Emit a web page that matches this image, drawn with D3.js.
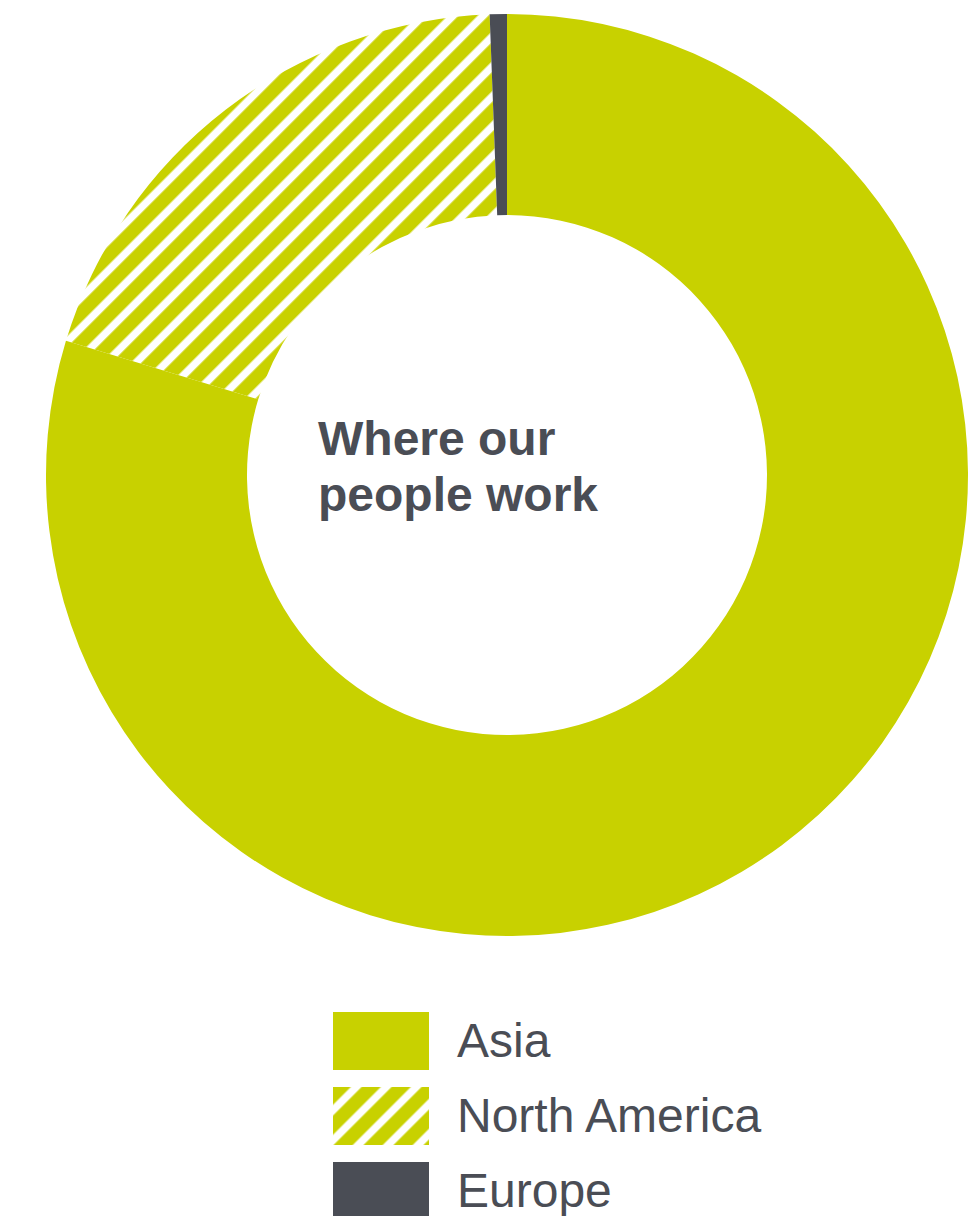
<!DOCTYPE html>
<html>
<head>
<meta charset="utf-8">
<script src="https://cdn.jsdelivr.net/npm/d3@7"></script>
<style>
  html, body { margin: 0; padding: 0; background: #ffffff; }
  svg { display: block; }
</style>
</head>
<body>
<script>
// Share of employees by region (percent)
const regions = ["Asia", "North America", "Europe"];
const shares = [79.7, 19.7, 0.6];
const fills = ["solid", "hatch", "dark"];
const titleLines = ["Where our", "people work"];

const W = 978, H = 1216;
const lime = "#c8d100";
const slate = "#4a4d55";

const svg = d3.select("body").append("svg")
  .attr("width", W).attr("height", H);

// Diagonal hatch used for North America
const defs = svg.append("defs");
const period = 21.2;
const pat = defs.append("pattern")
  .attr("id", "hatch")
  .attr("patternUnits", "userSpaceOnUse")
  .attr("width", period)
  .attr("height", period)
  .attr("patternTransform", "rotate(45)");
pat.append("rect")
  .attr("x", 1.3).attr("y", 0)
  .attr("width", 13.6).attr("height", period)
  .attr("fill", lime);
pat.append("rect")
  .attr("x", 1.3 - period).attr("y", 0)
  .attr("width", 13.6).attr("height", period)
  .attr("fill", lime);

const fillFor = f => f === "solid" ? lime : f === "hatch" ? "url(#hatch)" : slate;

const data = regions.map((r, i) => ({ region: r, value: shares[i], fill: fills[i] }));

const cx = 507, cy = 475, outerR = 461, innerR = 260;

const pie = d3.pie().value(d => d.value).sort(null);
const arc = d3.arc().innerRadius(innerR).outerRadius(outerR);

const g = svg.append("g").attr("transform", `translate(${cx},${cy})`);
g.selectAll("path")
  .data(pie(data))
  .join("path")
  .attr("d", arc)
  .attr("fill", d => fillFor(d.data.fill));

// Centre caption
const title = svg.append("text")
  .attr("x", 318)
  .attr("y", 455)
  .attr("font-family", "'Liberation Sans', Arial, Helvetica, sans-serif")
  .attr("font-weight", "bold")
  .attr("font-size", 48)
  .attr("fill", slate);
title.selectAll("tspan")
  .data(titleLines)
  .join("tspan")
  .attr("x", 318)
  .attr("dy", (d, i) => i === 0 ? 0 : 56)
  .text(d => d);

// Legend
const legendY = d3.scalePoint().domain(regions).range([1012, 1162]);
const legend = svg.append("g");
const items = legend.selectAll("g")
  .data(data)
  .join("g")
  .attr("transform", d => `translate(0,${legendY(d.region)})`);
items.append("rect")
  .attr("x", 333)
  .attr("width", 96)
  .attr("height", 58)
  .attr("fill", d => fillFor(d.fill));
items.append("text")
  .attr("x", 457)
  .attr("y", 45)
  .attr("font-family", "'Liberation Sans', Arial, Helvetica, sans-serif")
  .attr("font-size", 48)
  .attr("fill", slate)
  .text(d => d.region);
</script>
</body>
</html>
